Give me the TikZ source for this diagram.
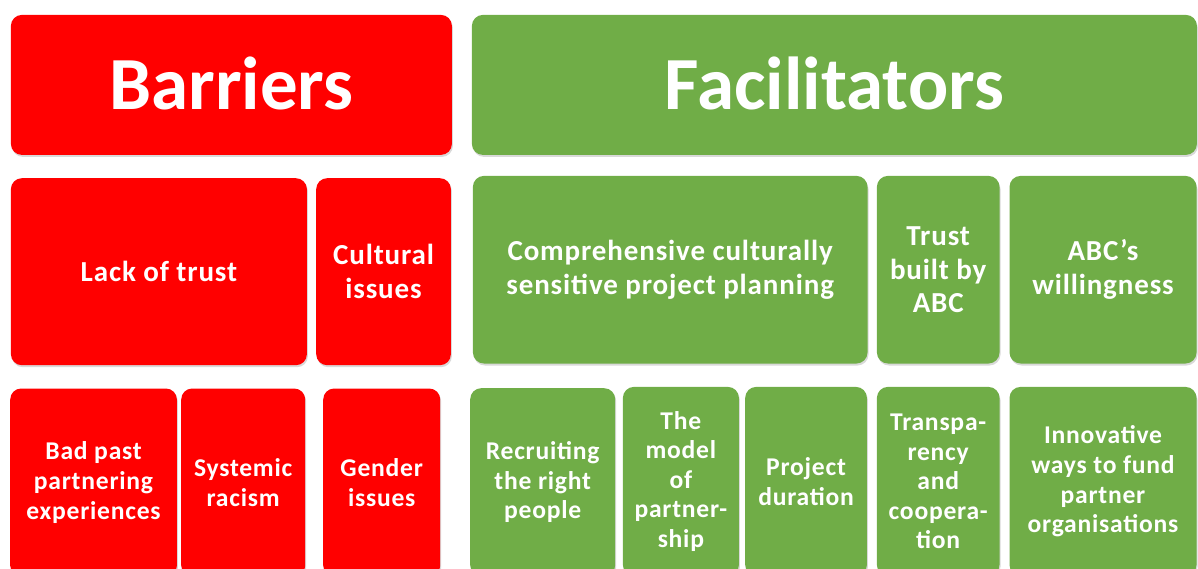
\documentclass[tikz,border=0pt]{standalone}
\usepackage{fontspec}
\setmainfont{Carlito}
\newfontfamily\boxfont{Carlito}[LetterSpace=3]
\usepackage{xcolor}
\usetikzlibrary{positioning,shadows}
\definecolor{barred}{HTML}{FF0000}
\definecolor{facgreen}{HTML}{70AD47}

\begin{document}
\begin{tikzpicture}[x=1pt, y=-1pt,
  box/.style={rounded corners=11pt, anchor=north west, align=center, text=white, inner sep=0pt,
    font=\boxfont\bfseries\fontsize{29}{33.8}\selectfont,
    drop shadow={shadow xshift=1pt, shadow yshift=-2pt, opacity=0.3}},
  barrier/.style={box, fill=barred},
  facilitator/.style={box, fill=facgreen},
  heading/.style={font=\bfseries\fontsize{75}{80}\selectfont, text depth=4pt},
  smalltext/.style={font=\boxfont\bfseries\fontsize{25.6}{29.6}\selectfont}]
\useasboundingbox (0,0) rectangle (1198,569);
\clip (0,0) rectangle (1198,569);

% headings
\node[barrier, heading, minimum width=441pt, minimum height=140pt] (barriers) at (10.7,14.7) {Barriers};
\node[facilitator, heading, minimum width=725pt, minimum height=140pt] (facilitators) at (471.7,14.7) {Facilitators};

% barriers
\node[barrier, minimum width=296pt, minimum height=187pt] (lacktrust) at (10.7,178) {Lack of trust};
\node[barrier, minimum width=134.7pt, minimum height=187pt] (cultural) at (316,178) {Cultural\\issues};
\node[barrier, smalltext, minimum width=166.7pt, minimum height=188pt] (badpast) at (10,388.3) {Bad past\\partnering\\experiences};
\node[barrier, smalltext, minimum width=124pt, minimum height=188pt] (racism) at (181,388.3) {Systemic\\racism};
\node[barrier, smalltext, minimum width=117pt, minimum height=188pt] (gender) at (323,388.3) {Gender\\issues};

% facilitators
\node[facilitator, minimum width=394.6pt, minimum height=187.6pt] (planning) at (472.7,175.7) {Comprehensive culturally\\sensitive project planning};
\node[facilitator, minimum width=122.6pt, minimum height=187.6pt] (trustabc) at (876.7,175.7) {Trust\\built by\\ABC};
\node[facilitator, minimum width=187pt, minimum height=187.6pt] (willing) at (1009.3,175.7) {ABC’s\\willingness};
\node[facilitator, smalltext, minimum width=145pt, minimum height=188pt] (recruit) at (470,388) {Recruiting\\the right\\people};
\node[facilitator, smalltext, minimum width=116pt, minimum height=189pt] (model) at (622.7,386.7) {The\\model\\of\\partner-\\ship};
\node[facilitator, smalltext, minimum width=121.7pt, minimum height=189pt] (duration) at (745,386.7) {Project\\duration};
\node[facilitator, smalltext, minimum width=122.6pt, minimum height=189pt] (transp) at (876.7,386.7) {Transpa-\\rency\\and\\coopera-\\tion};
\node[facilitator, smalltext, minimum width=187pt, minimum height=189pt] (funding) at (1009.3,386.7) {Innovative\\ways to fund\\partner\\organisations};
\end{tikzpicture}
\end{document}
